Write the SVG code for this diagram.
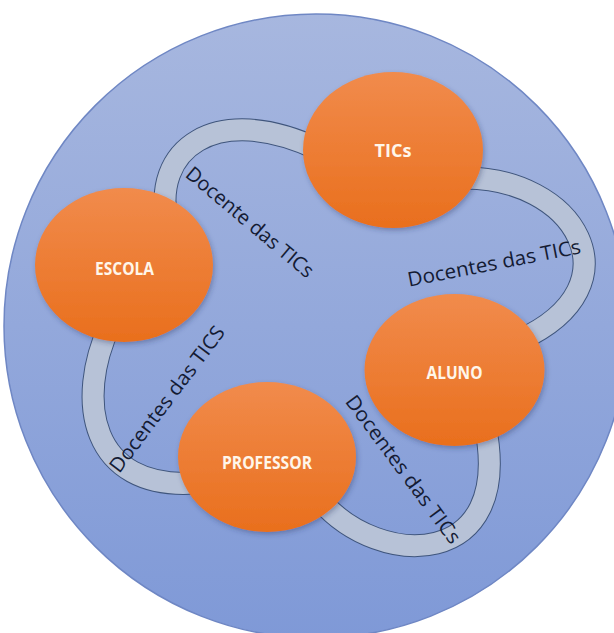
<svg xmlns="http://www.w3.org/2000/svg" width="614" height="633" viewBox="0 0 614 633">
  <defs>
    <linearGradient id="bg" x1="0" y1="0" x2="0" y2="1">
      <stop offset="0" stop-color="#a7b7df"/>
      <stop offset="1" stop-color="#7f99d7"/>
    </linearGradient>
    <linearGradient id="og" x1="0" y1="0" x2="0" y2="1">
      <stop offset="0" stop-color="#f18b4c"/>
      <stop offset="1" stop-color="#e96f1d"/>
    </linearGradient>
    <filter id="sh" x="-20%" y="-20%" width="140%" height="140%">
      <feDropShadow dx="1.5" dy="2.5" stdDeviation="2.5" flood-color="#2a3560" flood-opacity="0.35"/>
    </filter>
    <style>
      .band-o { fill: none; stroke: #3f557c; stroke-width: 23; }
      .band-i { fill: none; stroke: #b7c2d7; stroke-width: 21; }
      .node { fill: url(#og); filter: url(#sh); }
      .nl { font-family: "Open Sans", "Liberation Sans", sans-serif; font-weight: bold; font-size: 17px; fill: #fff6ea; text-anchor: middle; }
      .el { font-family: "Open Sans", "Liberation Sans", sans-serif; font-size: 20px; fill: #141b33; text-anchor: middle; }
    </style>
  </defs>

  <g id="background">
    <circle cx="316" cy="326" r="312" fill="url(#bg)" stroke="#6f87c4" stroke-width="1.5"/>
  </g>

  <g id="connectors">
    <path class="band-o" d="M 168 225 C 150 150, 215 100, 320 150"/>
    <path class="band-i" d="M 168 225 C 150 150, 215 100, 320 150"/>
    <path class="band-o" d="M 460 178 C 575 175, 640 285, 520 340"/>
    <path class="band-i" d="M 460 178 C 575 175, 640 285, 520 340"/>
    <path class="band-o" d="M 110 325 C 75 400, 90 490, 195 483"/>
    <path class="band-i" d="M 110 325 C 75 400, 90 490, 195 483"/>
    <path class="band-o" d="M 320 500 C 380 570, 515 570, 485 425"/>
    <path class="band-i" d="M 320 500 C 380 570, 515 570, 485 425"/>
  </g>

  <g id="node-tics">
    <ellipse class="node" cx="393" cy="150" rx="90" ry="78"/>
    <text class="nl" x="393" y="157" textLength="37" lengthAdjust="spacingAndGlyphs">TICs</text>
  </g>
  <g id="node-escola">
    <ellipse class="node" cx="124" cy="265" rx="89" ry="77"/>
    <text class="nl" x="124.5" y="275" textLength="59" lengthAdjust="spacingAndGlyphs">ESCOLA</text>
  </g>
  <g id="node-aluno">
    <ellipse class="node" cx="454.5" cy="370" rx="90" ry="76"/>
    <text class="nl" x="454.5" y="379" textLength="56" lengthAdjust="spacingAndGlyphs">ALUNO</text>
  </g>
  <g id="node-professor">
    <ellipse class="node" cx="267" cy="457" rx="89" ry="75"/>
    <text class="nl" x="267" y="469" textLength="90" lengthAdjust="spacingAndGlyphs">PROFESSOR</text>
  </g>

  <g id="connector-labels">
    <text class="el" transform="translate(245.5,227.4) rotate(40)" textLength="160" lengthAdjust="spacingAndGlyphs">Docente das TICs</text>
    <text class="el" transform="translate(495.3,269.9) rotate(-11)" textLength="176" lengthAdjust="spacingAndGlyphs">Docentes das TICs</text>
    <text class="el" transform="translate(172.6,403.2) rotate(-53)" textLength="177" lengthAdjust="spacingAndGlyphs">Docentes das TICS</text>
    <text class="el" transform="translate(397.7,473.4) rotate(53.5)" textLength="179" lengthAdjust="spacingAndGlyphs">Docentes das TICs</text>
  </g>
</svg>
